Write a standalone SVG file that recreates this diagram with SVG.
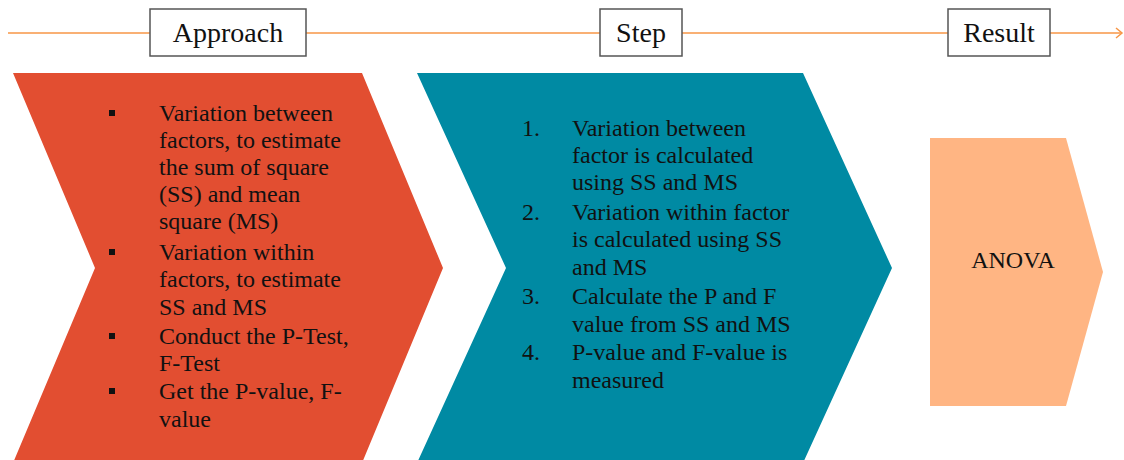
<svg xmlns="http://www.w3.org/2000/svg" width="1124" height="460" viewBox="0 0 1124 460">
<defs>
<marker id="arr" markerWidth="10" markerHeight="12" refX="7" refY="6" orient="auto" markerUnits="userSpaceOnUse">
<path d="M1,1 L7,6 L1,11" fill="none" stroke="#F79646" stroke-width="1.5"/>
</marker>
<style>
.t{font-family:"Liberation Serif","Times New Roman",serif;fill:#111;}
.hd{font-size:28px;text-anchor:middle;}
.bd{font-size:24px;}
.box{fill:#fff;stroke:#555;stroke-width:1.5;}
.ln{stroke:#F79646;stroke-width:1.5;fill:none;}
</style>
</defs>
<rect width="1124" height="460" fill="#fff"/>
<g id="connectors">
<line class="ln" x1="8" y1="33" x2="1122" y2="33" marker-end="url(#arr)"/>
</g>
<g id="label-approach">
<rect class="box" x="150" y="9" width="156" height="47"/>
<text class="t hd" x="228" y="42">Approach</text>
</g>
<g id="label-step">
<rect class="box" x="600" y="9" width="82" height="47"/>
<text class="t hd" x="641" y="42">Step</text>
</g>
<g id="label-result">
<rect class="box" x="948" y="9" width="102" height="47"/>
<text class="t hd" x="999" y="42">Result</text>
</g>
<g id="node-approach">
<polygon points="13,73 362,73 443,268 362,463 13,463 95,268" fill="#E24E31"/>
<g fill="#111">
<rect x="109" y="110" width="6" height="6"/>
<rect x="109" y="249" width="6" height="6"/>
<rect x="109" y="333" width="6" height="6"/>
<rect x="109" y="388" width="6" height="6"/>
</g>
<text class="t bd" x="159" y="121">Variation between</text>
<text class="t bd" x="159" y="148">factors, to estimate</text>
<text class="t bd" x="159" y="175">the sum of square</text>
<text class="t bd" x="159" y="202">(SS) and mean</text>
<text class="t bd" x="159" y="229">square (MS)</text>
<text class="t bd" x="159" y="260">Variation within</text>
<text class="t bd" x="159" y="287">factors, to estimate</text>
<text class="t bd" x="159" y="315">SS and MS</text>
<text class="t bd" x="159" y="344">Conduct the P-Test,</text>
<text class="t bd" x="159" y="371">F-Test</text>
<text class="t bd" x="159" y="399">Get the P-value, F-</text>
<text class="t bd" x="159" y="427">value</text>
</g>
<g id="node-step">
<polygon points="417,73 803,73 892,268 803,463 417,463 506,268" fill="#008AA3"/>
<text class="t bd" x="522" y="136">1.</text>
<text class="t bd" x="572" y="136">Variation between</text>
<text class="t bd" x="572" y="163">factor is calculated</text>
<text class="t bd" x="572" y="190">using SS and MS</text>
<text class="t bd" x="522" y="220">2.</text>
<text class="t bd" x="572" y="220">Variation within factor</text>
<text class="t bd" x="572" y="247">is calculated using SS</text>
<text class="t bd" x="572" y="275">and MS</text>
<text class="t bd" x="522" y="304">3.</text>
<text class="t bd" x="572" y="304">Calculate the P and F</text>
<text class="t bd" x="572" y="332">value from SS and MS</text>
<text class="t bd" x="522" y="360">4.</text>
<text class="t bd" x="572" y="360">P-value and F-value is</text>
<text class="t bd" x="572" y="388">measured</text>
</g>
<g id="node-result">
<polygon points="930,138 1066,138 1103,272 1066,406 930,406" fill="#FFB583"/>
<text class="t bd" x="1013" y="268" text-anchor="middle">ANOVA</text>
</g>
</svg>
